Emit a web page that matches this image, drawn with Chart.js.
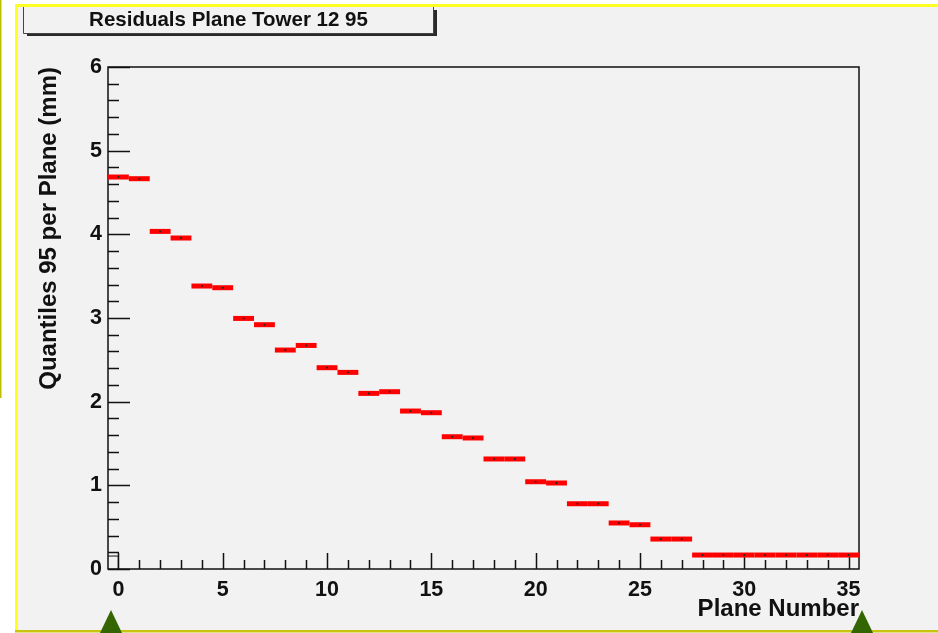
<!DOCTYPE html>
<html>
<head>
<meta charset="utf-8">
<title>Residuals Plane Tower 12 95</title>
<script src="https://cdn.jsdelivr.net/npm/chart.js@4/dist/chart.umd.min.js"></script>
<style>
  html, body { margin: 0; padding: 0; background: #ffffff; }
  #wrap { width: 938px; height: 633px; position: relative; }
  canvas { display: block; }
</style>
</head>
<body>
<div id="wrap"><canvas id="c" width="938" height="633"></canvas></div>
<script>
// Plane numbers (bin centres, one bin per plane)
const planes = [0, 1, 2, 3, 4, 5, 6, 7, 8, 9, 10, 11, 12, 13, 14, 15, 16, 17,
                18, 19, 20, 21, 22, 23, 24, 25, 26, 27, 28, 29, 30, 31, 32, 33, 34, 35];
// 95% quantile of the residuals per plane (mm)
const quantile95 = [4.685, 4.665, 4.035, 3.956, 3.382, 3.362, 2.995, 2.920,
                    2.617, 2.672, 2.406, 2.350, 2.099, 2.119, 1.888, 1.868,
                    1.581, 1.566, 1.315, 1.315, 1.043, 1.028, 0.780, 0.780,
                    0.550, 0.529, 0.358, 0.358, 0.167, 0.167, 0.167, 0.167,
                    0.167, 0.167, 0.167, 0.167];
// Axis ranges and labelled ticks
const xRange = [-0.5, 35.5];
const yRange = [0, 6];
const xTickValues = [0, 5, 10, 15, 20, 25, 30, 35];
const yTickValues = [0, 1, 2, 3, 4, 5, 6];
// Small box drawn at the origin of the frame
const originBox = [{x: -0.5, y: 0.155}, {x: 0, y: 0.155}, {x: 0, y: 0}];

const titleText = 'Residuals Plane Tower 12 95';
const FONT = '"Liberation Sans", Arial, Helvetica, sans-serif';

// Canvas background, yellow page frame, title box and range markers
const pagePlugin = {
  id: 'page',
  beforeDraw(chart) {
    const ctx = chart.ctx;
    ctx.save();
    ctx.fillStyle = '#ffffff';
    ctx.fillRect(0, 0, 938, 633);
    ctx.fillStyle = '#f2f2f2';
    ctx.fillRect(16, 5, 922, 626);
    // frame
    ctx.fillStyle = '#bfbf00';
    ctx.fillRect(0, 0, 1.5, 398);
    ctx.fillStyle = '#ffff22';
    ctx.fillRect(15, 4, 923, 3);
    ctx.fillRect(15, 4, 3, 628);
    ctx.fillStyle = '#c8c30e';
    ctx.fillRect(15, 630, 923, 2.5);
    // title box with shadow
    ctx.fillStyle = '#2a2a2a';
    ctx.fillRect(27, 33, 410, 3);
    ctx.fillRect(434, 10, 3, 26);
    ctx.fillStyle = '#f2f2f2';
    ctx.fillRect(23, 7, 410, 26);
    ctx.strokeStyle = '#444444';
    ctx.lineWidth = 1;
    ctx.beginPath();
    ctx.moveTo(23.5, 7);
    ctx.lineTo(23.5, 33.5);
    ctx.lineTo(433.5, 33.5);
    ctx.lineTo(433.5, 7);
    ctx.stroke();
    ctx.fillStyle = '#111111';
    ctx.font = 'bold 20.5px ' + FONT;
    ctx.textAlign = 'center';
    ctx.textBaseline = 'middle';
    ctx.fillText(titleText, 228.5, 20);
    ctx.restore();
  },
  afterDraw(chart) {
    const ctx = chart.ctx;
    const xs = chart.scales.x;
    ctx.save();
    ctx.fillStyle = '#336600';
    [xRange[0], xRange[1]].forEach(v => {
      const px = xs.getPixelForValue(v) + 3;
      ctx.beginPath();
      ctx.moveTo(px, 610);
      ctx.lineTo(px + 11.5, 634);
      ctx.lineTo(px - 11.5, 634);
      ctx.closePath();
      ctx.fill();
    });
    ctx.restore();
  }
};

// Plot frame with inward-pointing major and minor ticks
const framePlugin = {
  id: 'frame',
  beforeDatasetsDraw(chart) {
    const ctx = chart.ctx;
    const a = chart.chartArea;
    const xs = chart.scales.x, ys = chart.scales.y;
    ctx.save();
    ctx.strokeStyle = '#111111';
    ctx.lineWidth = 1.5;
    ctx.strokeRect(a.left, a.top, a.right - a.left, a.bottom - a.top);
    ctx.beginPath();
    for (let i = 0; i <= 30; i++) {
      const v = i * 0.2;
      const py = Math.round(ys.getPixelForValue(v)) + 0.5;
      const len = (i % 5 === 0) ? 22 : 11;
      ctx.moveTo(a.left, py);
      ctx.lineTo(a.left + len, py);
    }
    for (let v = 0; v <= 35; v++) {
      const px = Math.round(xs.getPixelForValue(v)) + 0.5;
      const len = (v % 5 === 0) ? 16 : 9;
      ctx.moveTo(px, a.bottom);
      ctx.lineTo(px, a.bottom - len);
    }
    ctx.stroke();
    ctx.restore();
  }
};

const halfBin = (c) => {
  const s = c.chart.scales.x;
  return (s.getPixelForValue(1) - s.getPixelForValue(0)) / 2;
};

const ctx = document.getElementById('c').getContext('2d');
new Chart(ctx, {
  type: 'scatter',
  data: {
    datasets: [
      {
        // horizontal bin-width bars
        label: 'quantile95',
        data: planes.map((p, i) => ({x: p, y: quantile95[i]})),
        pointStyle: 'line',
        pointRadius: halfBin,
        pointHoverRadius: halfBin,
        borderColor: '#ff0000',
        backgroundColor: '#ff0000',
        pointBorderWidth: 5,
        pointHoverBorderWidth: 5,
        showLine: false,
        order: 2
      },
      {
        // bin-centre markers
        label: 'centres',
        data: planes.map((p, i) => ({x: p, y: quantile95[i]})),
        pointStyle: 'circle',
        pointRadius: 1,
        pointHoverRadius: 1,
        borderColor: '#222222',
        backgroundColor: '#222222',
        pointBorderWidth: 0,
        showLine: false,
        order: 1
      },
      {
        label: 'origin',
        data: originBox,
        showLine: true,
        borderColor: '#111111',
        borderWidth: 1,
        pointRadius: 0,
        fill: false,
        order: 3
      }
    ]
  },
  options: {
    responsive: false,
    animation: false,
    events: [],
    layout: { padding: { left: 20, right: 79, top: 67, bottom: 8 } },
    plugins: {
      legend: { display: false },
      tooltip: { enabled: false },
      title: { display: false }
    },
    scales: {
      x: {
        type: 'linear',
        min: xRange[0],
        max: xRange[1],
        grid: { display: false, drawTicks: false },
        border: { display: false },
        afterBuildTicks: (s) => { s.ticks = xTickValues.map(v => ({value: v})); },
        afterFit: (s) => { s.height = 56; },
        ticks: {
          color: '#111111',
          padding: 8,
          autoSkip: false,
          maxRotation: 0,
          font: { family: FONT, size: 21.5, weight: 'bold' }
        },
        title: {
          display: true,
          text: 'Plane Number',
          align: 'end',
          color: '#111111',
          padding: { top: 0, bottom: 1.5 },
          font: { family: FONT, size: 24, weight: 'bold' }
        }
      },
      y: {
        type: 'linear',
        min: yRange[0],
        max: yRange[1],
        grid: { display: false, drawTicks: false },
        border: { display: false },
        afterBuildTicks: (s) => { s.ticks = yTickValues.map(v => ({value: v})); },
        afterFit: (s) => { s.width = 88; },
        ticks: {
          color: '#111111',
          padding: 6,
          font: { family: FONT, size: 21.5, weight: 'bold' }
        },
        title: {
          display: true,
          text: 'Quantiles 95 per Plane (mm)',
          align: 'end',
          color: '#111111',
          padding: { top: 15, bottom: 0 },
          font: { family: FONT, size: 24, weight: 'bold' }
        }
      }
    }
  },
  plugins: [pagePlugin, framePlugin]
});
</script>
</body>
</html>
